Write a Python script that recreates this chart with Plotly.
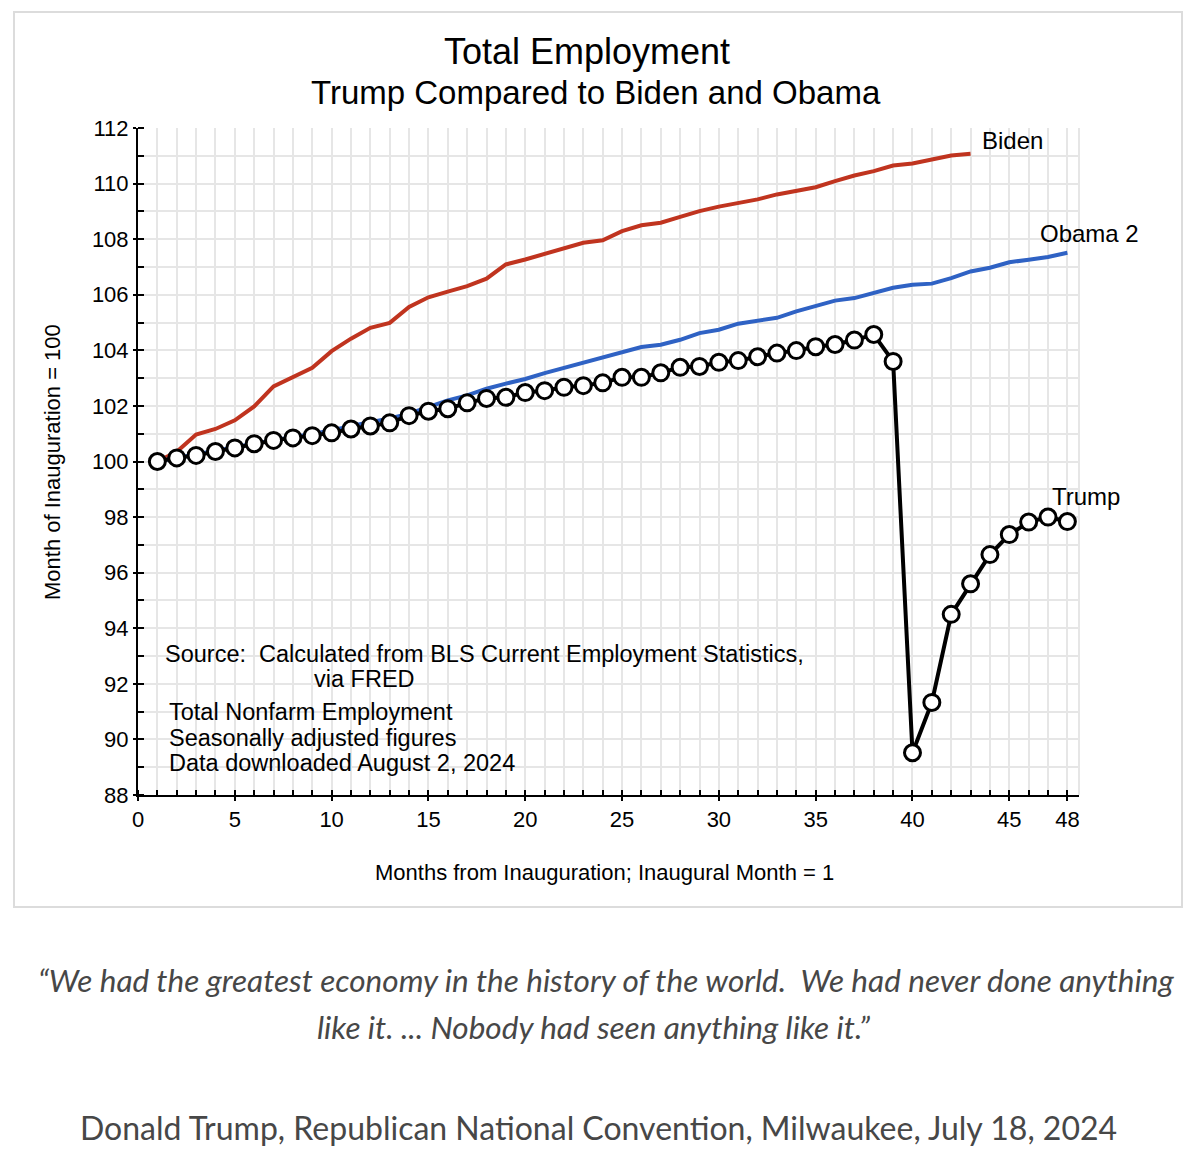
import plotly.graph_objects as go

# months from inauguration, inaugural month = 1
months = list(range(1, 49))

# total nonfarm employment, month of inauguration = 100
trump = [100.0, 100.13, 100.22, 100.36, 100.49, 100.64, 100.76, 100.85, 100.93, 101.03,
         101.17, 101.28, 101.39, 101.65, 101.81, 101.9, 102.11, 102.27, 102.31, 102.48,
         102.55, 102.67, 102.73, 102.83, 103.03, 103.03, 103.19, 103.39, 103.42, 103.57,
         103.63, 103.77, 103.9, 103.99, 104.13, 104.21, 104.37, 104.57, 103.6, 89.52,
         91.33, 94.5, 95.6, 96.65, 97.37, 97.82, 98.0, 97.84]

obama2 = [100.0, 100.13, 100.25, 100.4, 100.5, 100.66, 100.77, 100.87, 100.98, 101.12,
          101.28, 101.4, 101.55, 101.72, 101.95, 102.2, 102.38, 102.62, 102.8, 102.97,
          103.18, 103.37, 103.57, 103.77, 103.93, 104.12, 104.2, 104.38, 104.62, 104.74,
          104.96, 105.07, 105.17, 105.4, 105.58, 105.79, 105.88, 106.08, 106.25, 106.36,
          106.4, 106.6, 106.84, 106.97, 107.17, 107.26, 107.36, 107.51]

biden = [100.0, 100.35, 100.97, 101.17, 101.48, 101.98, 102.7, 103.04, 103.37, 103.97,
         104.42, 104.81, 104.99, 105.56, 105.91, 106.11, 106.31, 106.58, 107.09, 107.27,
         107.47, 107.69, 107.87, 107.96, 108.29, 108.5, 108.59, 108.8, 109.01, 109.17,
         109.29, 109.43, 109.61, 109.73, 109.87, 110.09, 110.29, 110.45, 110.65, 110.72,
         110.87, 111.01, 111.07]

x_ticks = [0, 5, 10, 15, 20, 25, 30, 35, 40, 45, 48]

# page pixels (reference), the html body adds an 8px margin
OFF = 8
W, H = 1196 - 2 * OFF, 1162 - 2 * OFF
L, R, T, B = 138, 1079, 128, 795   # plot area in page pixels

def px(x):
    return (x - L) / (R - L)

def py(y):
    return (B - y) / (B - T)

FONT = "Liberation Sans, Arial, sans-serif"
QUOTE_FONT = "Lato, Open Sans, sans-serif"
GRID = "#e6e6e6"
QUOTE_COLOR = "#474747"

fig = go.Figure()

fig.add_trace(go.Scatter(x=months[:len(biden)], y=biden, mode="lines", name="Biden",
                         line=dict(color="#c0341f", width=4)))
fig.add_trace(go.Scatter(x=months, y=obama2, mode="lines", name="Obama 2",
                         line=dict(color="#2f62c4", width=4)))
fig.add_trace(go.Scatter(x=months, y=trump, mode="lines+markers", name="Trump",
                         line=dict(color="black", width=4),
                         marker=dict(symbol="circle", size=16, color="white",
                                     line=dict(color="black", width=3))))

# series labels
fig.add_annotation(x=43.5, y=111.56, text="Biden", showarrow=False, xanchor="left",
                   font=dict(size=24, color="black", family=FONT))
fig.add_annotation(x=46.5, y=108.2, text="Obama 2", showarrow=False, xanchor="left",
                   font=dict(size=24, color="black", family=FONT))
fig.add_annotation(x=47.1, y=98.73, text="Trump", showarrow=False, xanchor="left",
                   font=dict(size=24, color="black", family=FONT))

# titles
fig.add_annotation(xref="paper", yref="paper", x=px(587), y=py(52), text="Total Employment",
                   xanchor="center", yanchor="middle",
                   showarrow=False, font=dict(size=36, color="black", family=FONT))
fig.add_annotation(xref="paper", yref="paper", x=px(596), y=py(93),
                   text="Trump Compared to Biden and Obama",
                   xanchor="center", yanchor="middle",
                   showarrow=False, font=dict(size=33, color="black", family=FONT))

# axis titles
fig.add_annotation(xref="paper", yref="paper", x=px(52), y=py(462),
                   text="Month of Inauguration = 100", textangle=-90,
                   xanchor="center", yanchor="middle",
                   showarrow=False, font=dict(size=22, color="black", family=FONT))
fig.add_annotation(xref="paper", yref="paper", x=px(604), y=py(872),
                   text="Months from Inauguration; Inaugural Month = 1",
                   xanchor="center", yanchor="middle",
                   showarrow=False, font=dict(size=22, color="black", family=FONT))

# source notes
notes = [
    (163, 654, "Source:  Calculated from BLS Current Employment Statistics,"),
    (312, 679, "via FRED"),
    (167, 712, "Total Nonfarm Employment"),
    (167, 738, "Seasonally adjusted figures"),
    (167, 763, "Data downloaded August 2, 2024"),
]
for nx, ny, txt in notes:
    fig.add_annotation(xref="paper", yref="paper", x=px(nx), y=py(ny), text=txt,
                       xanchor="left", yanchor="middle", showarrow=False,
                       font=dict(size=23.5, color="black", family=FONT))

# quote below the chart box
fig.add_annotation(xref="paper", yref="paper", x=px(606), y=py(980),
                   text="<i>\u201cWe had the greatest economy in the history of the world.  "
                        "We had never done anything</i>",
                   xanchor="center", yanchor="middle",
                   showarrow=False, font=dict(size=31.5, color=QUOTE_COLOR, family=QUOTE_FONT))
fig.add_annotation(xref="paper", yref="paper", x=px(593), y=py(1027),
                   text="<i>like it. ... Nobody had seen anything like it.\u201d</i>",
                   xanchor="center", yanchor="middle",
                   showarrow=False, font=dict(size=31.5, color=QUOTE_COLOR, family=QUOTE_FONT))
fig.add_annotation(xref="paper", yref="paper", x=px(598), y=py(1127),
                   text="Donald Trump, Republican National Convention, Milwaukee, July 18, 2024",
                   xanchor="center", yanchor="middle",
                   showarrow=False, font=dict(size=32, color=QUOTE_COLOR, family=QUOTE_FONT))

# chart frame and right grid edge
fig.add_shape(type="rect", xref="paper", yref="paper", x0=px(14), x1=px(1182),
              y0=py(907), y1=py(12), line=dict(color="#dcdcdc", width=2), layer="below")
fig.add_shape(type="line", xref="paper", yref="paper", x0=1, x1=1, y0=0, y1=1,
              line=dict(color=GRID, width=2), layer="below")

fig.update_xaxes(range=[0, 48.6], tickmode="array", tickvals=x_ticks,
                 showline=True, linecolor="black", linewidth=2,
                 ticks="outside", ticklen=4, tickwidth=2, tickcolor="black",
                 showgrid=True, gridcolor=GRID, gridwidth=2, zeroline=False,
                 tickfont=dict(size=22, color="black", family=FONT),
                 minor=dict(dtick=1, tick0=0, ticks="inside", ticklen=5, tickwidth=1.5,
                            tickcolor="black", showgrid=True, gridcolor=GRID, gridwidth=2))
fig.update_yaxes(range=[88, 112], dtick=2, tick0=88,
                 showline=True, linecolor="black", linewidth=2,
                 ticks="outside", ticklen=3, tickwidth=2, tickcolor="black",
                 showgrid=True, gridcolor=GRID, gridwidth=2, zeroline=False,
                 tickfont=dict(size=22, color="black", family=FONT),
                 minor=dict(dtick=1, tick0=88, ticks="inside", ticklen=6, tickwidth=1.5,
                            tickcolor="black", showgrid=True, gridcolor=GRID, gridwidth=2))

fig.update_layout(
    width=W, height=H,
    margin=dict(l=L - OFF, r=W + OFF - R, t=T - OFF, b=H + OFF - B),
    plot_bgcolor="white", paper_bgcolor="white",
    showlegend=False,
)

fig.write_html("out.html")
